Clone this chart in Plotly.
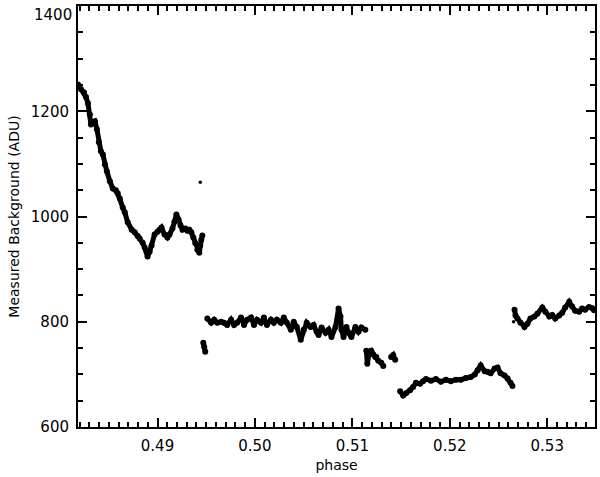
import plotly.graph_objects as go

# Segment 1 (early, declining)
phase_1 = [0.48184, 0.48215, 0.48245, 0.48266, 0.48286, 0.48306, 0.48317, 0.48337, 0.48357, 0.48378,
           0.48398, 0.48419, 0.48439, 0.48460, 0.48480, 0.48511, 0.48541, 0.48572, 0.48592, 0.48613,
           0.48643, 0.48664, 0.48694, 0.48735, 0.48766, 0.48796, 0.48817, 0.48847, 0.48868, 0.48888,
           0.48898, 0.48919, 0.48939, 0.48970, 0.49000, 0.49021, 0.49041, 0.49072, 0.49102, 0.49123,
           0.49153, 0.49174, 0.49194, 0.49215, 0.49235, 0.49256, 0.49286, 0.49307, 0.49327, 0.49347,
           0.49368, 0.49388, 0.49409, 0.49429, 0.49439, 0.49449, 0.49460]
adu_1 = [1251, 1242, 1236, 1227, 1215, 1194, 1175, 1179, 1181, 1166,
         1141, 1124, 1118, 1099, 1086, 1067, 1053, 1050, 1044, 1034,
         1017, 1008, 989, 975, 970, 963, 958, 950, 941, 933,
         924, 933, 945, 966, 971, 975, 979, 966, 960, 966,
         977, 990, 1004, 995, 983, 975, 977, 973, 975, 970,
         960, 949, 937, 931, 945, 956, 964]

# Isolated outliers
phase_out = [0.49439, 0.52654]
adu_out = [1065, 800]

# Segment 2a (short low piece)
phase_2a = [0.49470, 0.49480, 0.49490]
adu_2a = [760, 752, 743]

# Segment 2b (flat ~800)
phase_2b = [0.49511, 0.49551, 0.49582, 0.49613, 0.49653, 0.49684, 0.49715, 0.49755, 0.49786, 0.49817,
            0.49857, 0.49888, 0.49919, 0.49960, 0.49990, 0.50021, 0.50062, 0.50092, 0.50123, 0.50164,
            0.50194, 0.50225, 0.50266, 0.50296, 0.50327, 0.50368, 0.50398, 0.50429, 0.50470, 0.50500,
            0.50531, 0.50572, 0.50602, 0.50633, 0.50653, 0.50684, 0.50725, 0.50756, 0.50786, 0.50827,
            0.50858, 0.50878, 0.50888, 0.50909, 0.50939, 0.50960, 0.50990, 0.51031, 0.51062, 0.51092,
            0.51133]
adu_2b = [806, 798, 804, 798, 800, 798, 794, 804, 794, 798,
          808, 794, 804, 808, 794, 804, 798, 808, 794, 804,
          798, 804, 798, 808, 798, 785, 800, 790, 766, 785,
          798, 790, 794, 781, 775, 789, 779, 785, 771, 790,
          825, 810, 785, 771, 790, 779, 771, 790, 781, 789,
          785]

# Segment 3 (small pieces ~730)
phase_3a = [0.51143, 0.51153, 0.51174, 0.51194, 0.51215, 0.51235, 0.51245, 0.51266, 0.51296, 0.51317]
adu_3a = [745, 720, 743, 745, 738, 733, 733, 726, 722, 716]
phase_3b = [0.51398, 0.51419, 0.51439]
adu_3b = [733, 737, 728]

# Segment 4 (low ~690)
phase_4 = [0.51490, 0.51521, 0.51551, 0.51592, 0.51623, 0.51653, 0.51694, 0.51725, 0.51755, 0.51806,
           0.51857, 0.51908, 0.51960, 0.52011, 0.52062, 0.52113, 0.52164, 0.52215, 0.52256, 0.52286,
           0.52317, 0.52358, 0.52388, 0.52419, 0.52460, 0.52490, 0.52521, 0.52562, 0.52592, 0.52623,
           0.52643]
adu_4 = [668, 660, 664, 670, 676, 684, 682, 687, 691, 688,
         691, 686, 690, 687, 690, 690, 693, 695, 700, 708,
         717, 706, 705, 702, 711, 713, 702, 698, 692, 684,
         678]

# Segment 5 (late ~815)
phase_5 = [0.52664, 0.52674, 0.52694, 0.52725, 0.52766, 0.52796, 0.52827, 0.52868, 0.52898, 0.52949,
           0.52980, 0.53021, 0.53051, 0.53082, 0.53123, 0.53153, 0.53184, 0.53225, 0.53255, 0.53286,
           0.53327, 0.53357, 0.53388, 0.53429, 0.53459, 0.53480]
adu_5 = [823, 812, 806, 798, 790, 796, 806, 810, 815, 827,
         819, 810, 813, 806, 812, 817, 827, 838, 829, 821,
         819, 825, 823, 828, 826, 822]

x_tick0, x_dtick, x_minor = 0.49, 0.01, 0.001
y_tick0, y_dtick, y_minor = 600, 200, 50
y_top_label = "1400"

segments = [(phase_1, adu_1), (phase_2a, adu_2a), (phase_2b, adu_2b), (phase_3a, adu_3a),
            (phase_3b, adu_3b), (phase_4, adu_4), (phase_5, adu_5)]

fig = go.Figure()
for px_, py_ in segments:
    fig.add_trace(go.Scatter(x=px_, y=py_, mode="lines+markers",
                             line=dict(color="black", width=5),
                             marker=dict(color="black", size=6),
                             showlegend=False))
fig.add_trace(go.Scatter(x=phase_out, y=adu_out, mode="markers",
                         marker=dict(color="black", size=3.5), showlegend=False))

font = dict(family="DejaVu Sans, Verdana, sans-serif", size=15, color="black")
title_font = dict(family="DejaVu Sans, Verdana, sans-serif", size=14, color="black")
fig.update_layout(
    width=600, height=477,
    margin=dict(l=78, r=3, t=6, b=50),
    paper_bgcolor="white", plot_bgcolor="white",
    font=font,
    xaxis=dict(range=[0.48184, 0.53490], tickmode="linear", tick0=x_tick0, dtick=x_dtick, tickformat=".2f",
               ticks="inside", ticklen=9, tickwidth=2, tickcolor="black",
               minor=dict(ticks="inside", ticklen=5, dtick=x_minor, tick0=x_tick0, tickcolor="black", tickwidth=1.5, showgrid=False),
               showline=True, linecolor="black", linewidth=2, mirror="allticks",
               showgrid=False, zeroline=False,
               title=dict(text="phase", standoff=6, font=title_font), ticklabelstandoff=4),
    yaxis=dict(range=[600, 1400], tickmode="linear", tick0=y_tick0, dtick=y_dtick,
               ticks="inside", ticklen=9, tickwidth=2, tickcolor="black",
               minor=dict(ticks="inside", ticklen=5, dtick=y_minor, tick0=y_tick0, tickcolor="black", tickwidth=1.5, showgrid=False),
               showline=True, linecolor="black", linewidth=2, mirror="allticks",
               showgrid=False, zeroline=False,
               title=dict(text="Measured Background (ADU)", standoff=8, font=title_font), ticklabelstandoff=4),
    annotations=[dict(text=y_top_label, xref="paper", yref="y", x=0, y=1400,
                      xanchor="right", yanchor="top", xshift=-4, yshift=2, showarrow=False,
                      font=font)],
)
fig.write_html("out.html", post_script="document.body.style.margin='0';",
               config={"displayModeBar": False})
